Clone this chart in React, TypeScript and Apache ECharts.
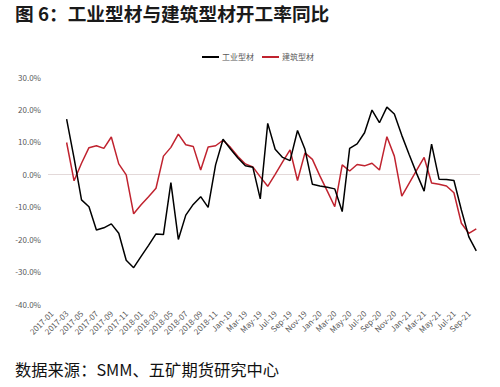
import React, { useEffect, useRef } from "react";
import * as echarts from "echarts";

const categories: string[] = [
  "2017-01", "2017-02", "2017-03", "2017-04", "2017-05", "2017-06", "2017-07", "2017-08", "2017-09", "2017-10", "2017-11", "2017-12",
  "2018-01", "2018-02", "2018-03", "2018-04", "2018-05", "2018-06", "2018-07", "2018-08", "2018-09", "2018-10", "2018-11", "2018-12",
  "Jan-19", "Feb-19", "Mar-19", "Apr-19", "May-19", "Jun-19", "Jul-19", "Aug-19", "Sep-19", "Oct-19", "Nov-19", "Dec-19",
  "Jan-20", "Feb-20", "Mar-20", "Apr-20", "May-20", "Jun-20", "Jul-20", "Aug-20", "Sep-20", "Oct-20", "Nov-20", "Dec-20",
  "Jan-21", "Feb-21", "Mar-21", "Apr-21", "May-21", "Jun-21", "Jul-21", "Aug-21", "Sep-21", "Oct-21",
];

// 工业型材 开工率同比 (%)
const industrial: (number | null)[] = [
  null, null, 17.0, 5.0, -7.9, -10.0, -17.2, -16.5, -15.3, -18.2, -26.5, -28.8,
  -25.3, -21.9, -18.4, -18.6, -2.6, -20.1, -12.6, -9.3, -6.9, -10.2, 2.9, 10.8,
  7.8, 5.0, 2.6, 2.2, -7.6, 15.7, 7.7, 5.2, 4.2, 13.5, 7.7, -3.1,
  -3.6, -4.0, -4.5, -11.5, 8.0, 9.4, 12.8, 19.8, 15.9, 20.7, 18.6, 12.0,
  6.0, 0.2, -5.2, 9.3, -1.5, -1.6, -1.9, -11.0, -19.3, -23.6,
];

// 建筑型材 开工率同比 (%)
const construction: (number | null)[] = [
  null, null, 9.8, -2.0, 3.4, 8.2, 8.8, 8.0, 11.5, 3.2, -0.2, -12.2,
  -9.4, -6.9, -4.3, 5.6, 8.3, 12.4, 9.1, 8.6, 1.3, 8.4, 8.8, 10.5,
  8.3, 5.5, 3.2, 2.3, -0.8, -3.7, 0.0, 3.8, 7.5, -1.9, 6.6, 4.6,
  -0.5, -5.2, -10.0, 2.9, 1.0, 3.0, 2.6, 3.4, 1.3, 11.6, 5.6, -6.7,
  -2.7, 1.3, 5.2, -2.7, -3.1, -3.6, -5.7, -15.1, -18.2, -16.8,
];

const seriesNames = ["工业型材", "建筑型材"];
const titleText = "图 6：工业型材与建筑型材开工率同比";
const sourceText = "数据来源：SMM、五矿期货研究中心";

const FONT = "'Noto Sans CJK SC', 'Noto Sans', sans-serif";

export default function App() {
  const ref = useRef<HTMLDivElement>(null);
  useEffect(() => {
    document.body.style.margin = "0";
    if (!ref.current) return;
    const chart = echarts.init(ref.current, undefined, { renderer: "svg" });
    chart.setOption({
      animation: false,
      backgroundColor: "#ffffff",
      textStyle: { fontFamily: FONT },
      graphic: [
        {
          type: "text",
          left: 15,
          top: 3,
          style: {
            text: titleText,
            fontSize: 18.7,
            fontWeight: "bold",
            fontFamily: FONT,
            fill: "#1a1a1a",
          },
        },
        {
          type: "text",
          left: 15,
          top: 361,
          style: {
            text: sourceText,
            fontSize: 16.3,
            fontWeight: "normal",
            fontFamily: FONT,
            fill: "#111111",
          },
        },
      ],
      legend: {
        data: seriesNames,
        left: 197,
        top: 48,
        itemWidth: 17,
        itemHeight: 2,
        itemGap: 8,
        icon: "rect",
        textStyle: { fontSize: 8, color: "#595959", fontFamily: FONT, padding: [0, 0, 0, -2] },
      },
      grid: { left: 48, right: 20, top: 77, bottom: 83, containLabel: false },
      xAxis: {
        type: "category",
        data: categories,
        boundaryGap: true,
        axisLine: { show: false },
        axisTick: { show: false },
        axisLabel: {
          interval: 1,
          rotate: 45,
          fontSize: 8,
          color: "#595959",
          margin: 8,
          fontFamily: FONT,
        },
      },
      yAxis: {
        type: "value",
        min: -40,
        max: 30,
        interval: 10,
        axisLine: { show: false },
        axisTick: { show: false },
        splitLine: { show: false },
        axisLabel: {
          fontSize: 8,
          color: "#595959",
          margin: 7,
          fontFamily: FONT,
          formatter: (v: number) => v.toFixed(1) + "%",
        },
      },
      series: [
        {
          name: seriesNames[0],
          type: "line",
          data: industrial,
          symbol: "none",
          lineStyle: { color: "#000000", width: 1.5 },
          itemStyle: { color: "#000000" },
          z: 3,
          markLine: {
            silent: true,
            symbol: "none",
            label: { show: false },
            lineStyle: { color: "#e3d9d9", type: "solid", width: 1 },
            data: [{ yAxis: 0 }],
            z: 1,
          },
        },
        {
          name: seriesNames[1],
          type: "line",
          data: construction,
          symbol: "none",
          lineStyle: { color: "#c0232f", width: 1.5 },
          itemStyle: { color: "#c0232f" },
          z: 2,
        },
      ],
    });
    return () => chart.dispose();
  }, []);
  return <div ref={ref} style={{ width: 500, height: 387 }} />;
}
